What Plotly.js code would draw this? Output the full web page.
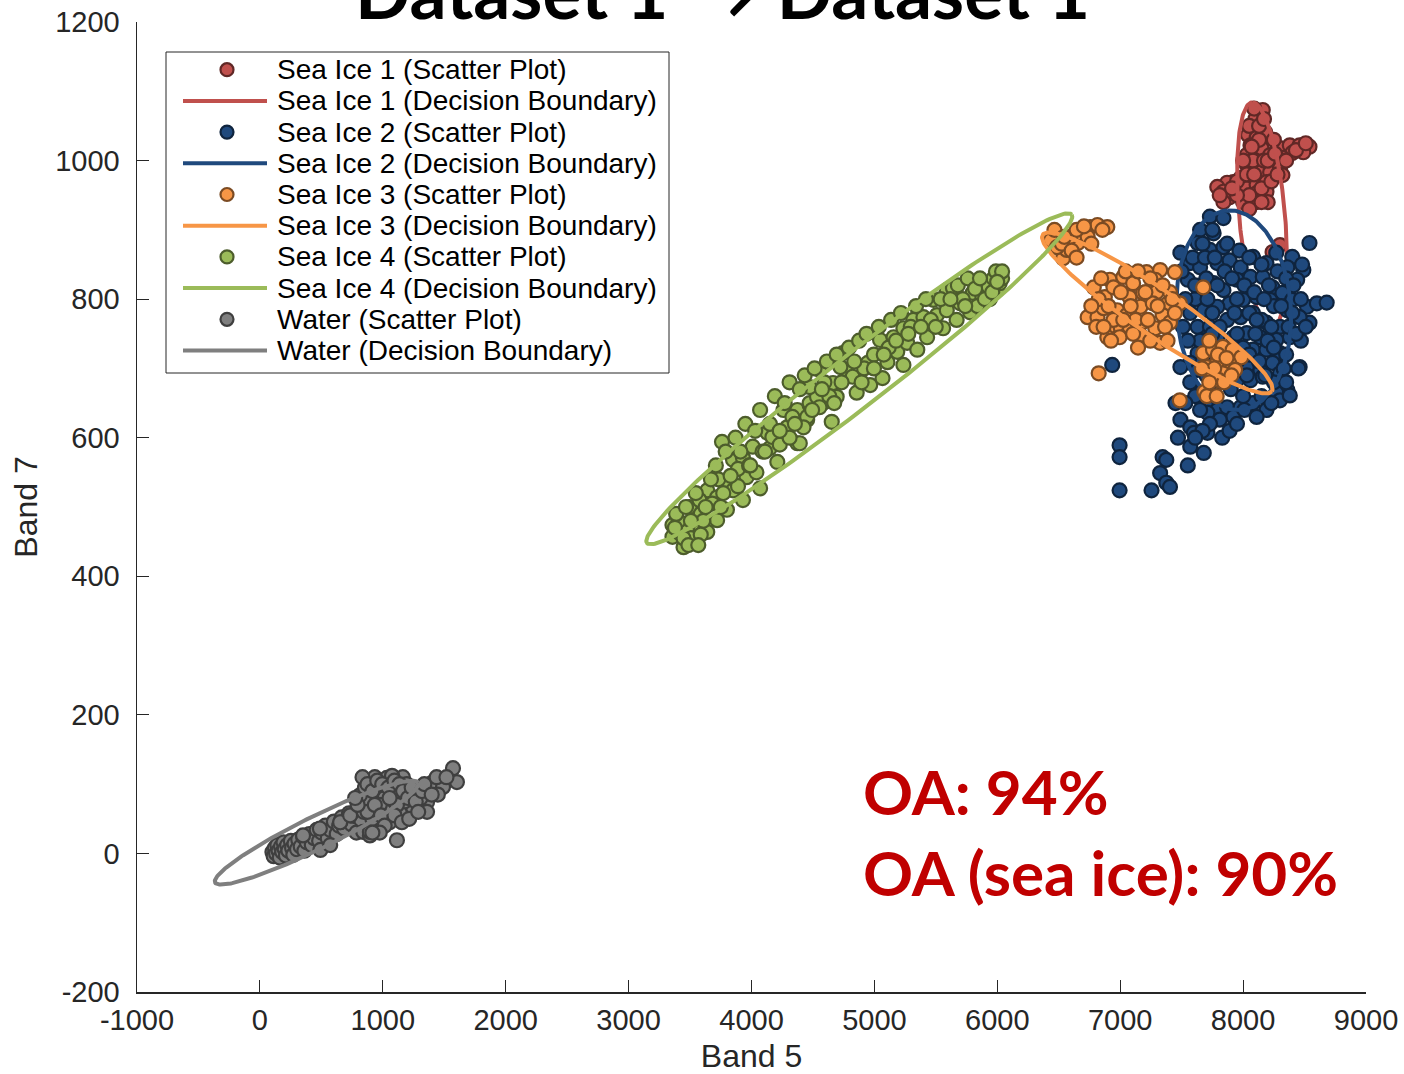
<!DOCTYPE html>
<html>
<head>
<meta charset="utf-8">
<script src="https://cdn.plot.ly/plotly-3.0.1.min.js"></script>
<style>
  html, body { margin: 0; padding: 0; background: #fff; }
  #chart { width: 1404px; height: 1074px; }
</style>
</head>
<body>
<div id="chart"></div>
<script>
// ---- Class names ----
const classNames = ['Sea Ice 1', 'Sea Ice 2', 'Sea Ice 3', 'Sea Ice 4', 'Water'];

// ---- Scatter samples (Band 5, Band 7) ----
const seaIce1X = [8160, 8120, 8080, 8040, 8110, 8180, 8060, 8150, 8030, 8220, 8300, 8380, 8460, 8540, 8490, 8400, 8320, 8240, 8110, 8030,
  8140, 8220, 8300, 8320, 8060, 7980, 7920, 7870, 7790, 7840, 7920, 7890, 7980, 8030, 8110, 8190, 8110, 8190, 8000, 8110,
  7840, 8300, 8240, 8100, 8130, 8080, 8170, 8150, 8050, 8200, 8250,
  7950, 8000, 8050, 8090, 8130, 8070, 8170, 8200, 8230, 8260, 8280, 8350, 8430, 8510, 8030, 7950, 8090, 8150, 7910, 7810, 8050];
const seaIce1Y = [1073, 1061, 1047, 1037, 1033, 1041, 1022, 1018, 1008, 1008, 1018, 1022, 1022, 1020, 1012, 1011, 1004, 998, 998, 994,
  983, 983, 989, 979, 975, 975, 969, 968, 962, 955, 955, 947, 953, 960, 965, 969, 953, 955, 940, 940,
  940, 878, 868, 1060, 1030, 1000, 1000, 960, 950, 940, 1030,
  970, 1000, 1050, 1075, 1050, 1020, 1060, 1000, 970, 1010, 980, 1000, 1015, 1025, 980, 950, 980, 940, 960, 950, 930];

const seaIce2X = [7730, 7840, 7650, 7760, 7630, 7730, 7840, 7490, 7570, 7650, 7790, 7890, 7980, 8080, 8190, 8270, 8400, 8540, 8490, 8360,
  8440, 7550, 7650, 7760, 7840, 7950, 8060, 8160, 8240, 8320, 8400, 8520, 8600, 8540, 8460, 8360, 8220, 8110, 8000, 7890,
  7790, 7680, 7570, 7630, 7730, 7870, 7980, 8080, 8190, 8300, 8380, 8270, 8140, 8030, 7920, 7790, 7680, 7630, 7570, 7490,
  7630, 8080, 8190, 8300, 8240, 8140, 8030, 7950, 8060, 8160, 8300, 8360, 8270, 8460, 7650, 7710, 7790, 7870, 7980, 8080,
  8190, 8300, 7920, 7810, 7710, 7490, 7570, 7470, 7600, 7710, 7570, 7680, 7345, 7375, 7325, 7375, 7405, 7255, 6995, 6995,
  6995, 6935, 8450, 7700, 7610, 7750, 7850, 7950, 8050, 8150, 8250, 7900, 8000, 8100, 8200, 7750, 7850, 7950, 8050, 7800,
  7900, 8000, 8150, 8250, 7650, 7700, 8350, 8400, 8470, 8380,
  7500, 7530, 7510, 7550, 7590, 7610, 7670, 7690, 7710, 7750, 7770, 7790, 7810, 7830, 7870, 7910, 7930, 7950, 7970, 8010,
  8030, 8050, 8090, 8110, 8130, 8150, 8170, 8180, 8210, 8230, 8250, 8280, 8310, 8330, 8350, 8370, 8410, 8430, 8470, 8510,
  7570, 7610, 7650, 7730, 7770, 7830, 7890, 7950, 8010, 8110, 8230, 8350, 7530, 7450, 7670, 7750, 7670, 7550, 7610, 8480, 8680];
const seaIce2Y = [919, 917, 900, 895, 881, 871, 875, 867, 852, 846, 852, 856, 846, 861, 852, 867, 861, 881, 842, 846,
  828, 828, 809, 823, 813, 828, 832, 832, 817, 809, 799, 789, 794, 766, 774, 784, 799, 803, 799, 794,
  789, 784, 780, 760, 760, 770, 774, 780, 766, 760, 745, 741, 745, 751, 745, 745, 741, 722, 708, 702,
  698, 727, 727, 722, 708, 698, 702, 683, 683, 688, 693, 669, 665, 702, 665, 650, 640, 644, 644, 650,
  640, 654, 630, 626, 636, 626, 615, 600, 607, 607, 587, 578, 572, 568, 549, 535, 529, 524, 589, 572,
  524, 705, 700, 830, 800, 780, 840, 800, 780, 770, 790, 720, 730, 750, 740, 720, 700, 710, 720, 680,
  670, 660, 660, 680, 740, 690, 720, 780, 740, 661,
  840, 800, 760, 740, 860, 820, 880, 860, 800, 900, 860, 820, 760, 730, 880, 830, 780, 750, 870, 820,
  690, 860, 810, 770, 710, 850, 800, 690, 820, 760, 730, 840, 790, 700, 830, 760, 820, 750, 800, 760,
  680, 660, 640, 620, 660, 600, 610, 620, 640, 630, 650, 680, 650, 650, 710, 750, 610, 560, 600, 850, 795];

const seaIce3X = [6435, 6535, 6565, 6655, 6675, 6755, 6815, 6895, 6855, 6485, 6595, 6735,
  6785, 6735, 6815, 6875, 6915, 7025, 7105, 7215, 7325, 7285, 7445, 7405, 7295, 7185, 7075, 6975, 7055, 7165,
  7265, 7375, 7485, 7345, 7405, 7285, 7175, 7075, 6975, 6895, 6895, 6995, 7165, 7325, 6865, 6945, 7675, 6825, 7485,
  7675, 7755, 7835, 7915, 7985, 7885, 7785, 7705, 7745, 7835, 7935, 7805, 7685, 7705,
  6825, 6845, 6905, 6945, 7005, 7045, 7085, 7125, 7145, 7205, 7245, 7305, 7345, 7365, 7425, 7445, 6925, 7025, 7105, 7225,
  7245, 7385, 7145, 6805, 6765, 6865, 6465, 6525, 6605, 6645, 6705, 6765, 6645, 6545,
  7725, 7795, 7865, 7765, 7845, 7905, 7725, 7785, 7665];
const seaIce3Y = [885, 859, 871, 881, 895, 904, 907, 904, 900, 875, 890, 890,
  817, 774, 774, 803, 828, 832, 823, 839, 842, 828, 839, 810, 810, 809, 803, 784, 777, 789,
  794, 792, 794, 777, 766, 758, 766, 760, 763, 755, 745, 745, 748, 737, 787, 817, 817, 693, 654,
  722, 727, 731, 727, 716, 708, 708, 702, 690, 693, 698, 683, 666, 660,
  800, 830, 790, 770, 810, 840, 790, 770, 840, 810, 830, 790, 820, 760, 800, 780, 740, 770, 750, 770,
  740, 740, 730, 760, 790, 760, 900, 880, 870, 900, 905, 880, 860, 890,
  740, 720, 715, 700, 680, 690, 680, 660, 700];

const seaIce4X = [3760, 3357, 3447, 3527, 3357, 3497, 3640, 3720, 3640, 3800, 3850, 3960, 3930, 4040, 4070, 3930, 4010, 4150, 4130, 4210,
  4170, 4290, 4260, 4373, 4373, 4453, 4473, 4653, 4583, 3800, 3720, 3557, 3417, 3577, 3850, 4453, 4473, 4553, 4663, 4693,
  4773, 4856, 4823, 4946, 4966, 5066, 5046, 5106, 5186, 5236, 5156, 5236, 5266, 5349, 5316, 5399, 5429, 5479, 5509, 5589,
  5559, 5589, 5639, 5699, 5669, 5779, 5799, 5879, 5929, 5999, 5969, 6019, 4743, 4723, 4393, 4423, 4533, 4553, 4473,
  3477, 3407, 3587, 3507, 3680, 3730, 3770, 3890, 3980, 3890, 4090, 4230, 4310, 4333, 4633, 4593, 4916, 4996, 5116, 5296,
  5459, 5719, 5839, 5939, 6039, 5989,
  3387, 3467, 3547, 3607, 3670, 3710, 3750, 3790, 3830, 3870, 3910, 3950, 3990, 4030, 4070, 4110, 4150, 4190, 4230, 4270,
  4310, 4353, 4393, 4433, 4493, 4513, 4573, 4613, 4673, 4693, 4733, 4793, 4836, 4876, 4896, 4936, 4996, 5036, 5076, 5136,
  5176, 5216, 5276, 5339, 5379, 5419, 5499, 5539, 5619, 5679, 5739, 5759, 5819, 5859, 5899, 5959, 6039, 5999, 3447, 3507,
  3587, 3627, 3377, 3487, 3567];
const seaIce4Y = [594, 474, 442, 448, 457, 500, 524, 514, 464, 536, 568, 543, 571, 550, 527, 510, 587, 585, 607, 565,
  601, 615, 640, 592, 640, 626, 647, 623, 650, 496, 481, 471, 462, 510, 524, 630, 650, 698, 679, 659,
  698, 665, 688, 708, 676, 686, 741, 709, 724, 705, 745, 758, 737, 727, 770, 774, 745, 799, 777, 784,
  758, 813, 816, 794, 770, 781, 809, 803, 818, 813, 830, 823, 722, 702, 592, 615, 659, 644, 673,
  470, 480, 490, 455, 505, 540, 520, 555, 560, 530, 580, 590, 600, 630, 660, 680, 700, 720, 730, 760,
  770, 800, 790, 800, 830, 840,
  490, 500, 520, 480, 540, 560, 500, 580, 545, 600, 580, 620, 560, 610, 640, 580, 620, 660, 610, 650,
  680, 620, 670, 690, 640, 700, 670, 710, 650, 720, 680, 730, 710, 740, 680, 750, 700, 760, 720, 770,
  740, 780, 750, 790, 760, 800, 760, 800, 800, 820, 790, 830, 815, 830, 800, 810, 840, 825, 455, 480,
  460, 500, 470, 445, 445];

const waterX = [102, 112, 122, 132, 142, 152, 162, 172, 182, 192, 202, 212, 222, 232, 252, 262, 272, 282, 302, 312,
  332, 352, 362, 382, 402, 422, 442, 462, 482, 502, 532, 552, 572, 602, 625, 645, 665, 685, 705, 725,
  745, 765, 785, 805, 825, 655, 735, 492, 572, 653, 734, 488, 351, 841, 895,
  895, 1033, 1163, 1082, 895, 952, 1138, 1219, 814, 1000, 895, 1247, 965, 1015, 1115, 855, 935, 1075, 1195, 1025,
  1175, 915, 975, 1055, 1115, 845, 1360, 1360, 1409, 1490, 1603, 1571, 1115, 1308, 1268, 1448,
  835, 875, 915, 955, 995, 1045, 1095, 1135, 1165, 1205, 1235, 875, 935, 985, 1055, 1095, 1155, 1215, 1268, 1288,
  1015, 975, 915, 795, 775, 1318, 1338, 1398, 1438, 1518];
const waterY = [2, -4, 8, 0, 12, 4, -6, 10, 2, 16, 6, -3, 12, 4, 18, 8, -2, 14, 6, 20,
  10, 24, 4, 16, 28, 12, 22, 34, 18, 30, 40, 22, 34, 46, 28, 40, 52, 36, 48, 58,
  42, 54, 30, 64, 48, 45, 55, 5, 12, 45, 55, 36, 26, 31, 26,
  103, 109, 110, 84, 74, 60, 60, 88, 84, 45, 31, 66, 95, 80, 95, 95, 110, 112, 100, 60,
  75, 50, 70, 45, 70, 60, 74, 60, 103, 96, 103, 123, 19, 80, 95, 85,
  110, 100, 90, 105, 100, 95, 105, 100, 90, 80, 95, 60, 70, 55, 80, 55, 45, 50, 75, 60,
  40, 30, 30, 70, 80, 90, 100, 85, 110, 110];

// ---- Decision boundaries: centre, and two conjugate semi-axis vectors (data units) ----
const boundaryCenters = [[8154, 921], [7924, 784], [7302, 780], [4877, 685], [461, 30]];
const boundaryAxisU = [[-81, 163], [-49, 144], [932, -113], [1728, 237], [826, 72]];
const boundaryAxisV = [[186, 3], [464, 5], [-106, -27], [130, -30], [59, -21]];

// ---- Axis ticks ----
const xTickVals = [-1000, 0, 1000, 2000, 3000, 4000, 5000, 6000, 7000, 8000, 9000];
const xTickText = ['-1000', '0', '1000', '2000', '3000', '4000', '5000', '6000', '7000', '8000', '9000'];
const yTickVals = [-200, 0, 200, 400, 600, 800, 1000, 1200];
const yTickText = ['-200', '0', '200', '400', '600', '800', '1000', '1200'];

// ---- Accuracy labels ----
const accuracyLabels = ['OA: 94%', 'OA (sea ice): 90%'];

// ---- Styling ----
const fillColors = ['#c0504d', '#1f497d', '#f79646', '#9bbb59', '#7f7f7f'];
const edgeColors = ['#602826', '#0f243e', '#7b4b23', '#4d5d2c', '#3f3f3f'];
const axisColor = '#262626';
const tickFont = { family: 'Liberation Sans, Arial, Helvetica, sans-serif', size: 29, color: axisColor };

const scatterX = [seaIce1X, seaIce2X, seaIce3X, seaIce4X, waterX];
const scatterY = [seaIce1Y, seaIce2Y, seaIce3Y, seaIce4Y, waterY];

function ellipsePath(c, u, v, n) {
  const xs = [], ys = [];
  for (let i = 0; i <= n; i++) {
    const t = 2 * Math.PI * i / n;
    xs.push(c[0] + Math.cos(t) * u[0] + Math.sin(t) * v[0]);
    ys.push(c[1] + Math.cos(t) * u[1] + Math.sin(t) * v[1]);
  }
  return { xs, ys };
}

const traces = [];
classNames.forEach((name, k) => {
  traces.push({
    type: 'scatter', mode: 'markers', name: name + ' (Scatter Plot)',
    x: scatterX[k], y: scatterY[k],
    marker: { symbol: 'circle', size: 14, color: fillColors[k], line: { color: edgeColors[k], width: 2.2 } },
    hoverinfo: 'skip', showlegend: false
  });
  const e = ellipsePath(boundaryCenters[k], boundaryAxisU[k], boundaryAxisV[k], 240);
  traces.push({
    type: 'scatter', mode: 'lines', name: name + ' (Decision Boundary)',
    x: e.xs, y: e.ys,
    line: { color: fillColors[k], width: 4 },
    hoverinfo: 'skip', showlegend: false
  });
});

// ---- Layout geometry (pixels) ----
const W = 1404, H = 1074;
const M = { l: 137, r: 38, t: 22, b: 82 };
const plotW = W - M.l - M.r, plotH = H - M.t - M.b;
const pxX = px => (px - M.l) / plotW;
const pxY = py => (H - M.b - py) / plotH;

const shapes = [];
const annotations = [];

// Legend box
shapes.push({
  type: 'rect', xref: 'paper', yref: 'paper',
  x0: pxX(166), x1: pxX(669), y0: pxY(373), y1: pxY(52),
  fillcolor: '#ffffff', line: { color: axisColor, width: 1 }, layer: 'above'
});
const legendFont = { family: 'Liberation Sans, Arial, Helvetica, sans-serif', size: 28, color: '#000000' };
classNames.forEach((name, k) => {
  const yScatter = 69.7 + (2 * k) * 31.2;
  const yLine = 69.7 + (2 * k + 1) * 31.2;
  const r = 6.5;
  shapes.push({
    type: 'circle', xref: 'paper', yref: 'paper',
    x0: pxX(227 - r), x1: pxX(227 + r), y0: pxY(yScatter + r), y1: pxY(yScatter - r),
    fillcolor: fillColors[k], line: { color: edgeColors[k], width: 2.2 }, layer: 'above'
  });
  shapes.push({
    type: 'line', xref: 'paper', yref: 'paper',
    x0: pxX(183), x1: pxX(267), y0: pxY(yLine), y1: pxY(yLine),
    line: { color: fillColors[k], width: 4 }, layer: 'above'
  });
  annotations.push({
    xref: 'paper', yref: 'paper', x: pxX(276), y: pxY(yScatter), xanchor: 'left', yanchor: 'middle',
    text: name + ' (Scatter Plot)', showarrow: false, font: legendFont, borderpad: 0
  });
  annotations.push({
    xref: 'paper', yref: 'paper', x: pxX(276), y: pxY(yLine), xanchor: 'left', yanchor: 'middle',
    text: name + ' (Decision Boundary)', showarrow: false, font: legendFont, borderpad: 0
  });
});

// Heading above the axes (partly outside the page)
annotations.push({
  xref: 'paper', yref: 'paper', x: pxX(722), y: pxY(36), xanchor: 'center', yanchor: 'bottom',
  text: '<b>Dataset 1 → Dataset 1</b>', showarrow: false, borderpad: 0,
  font: { family: 'Lato, Open Sans, sans-serif', size: 73, color: '#000000' }
});

// Overall accuracy text
const oaFont = { family: 'Lato, Open Sans, sans-serif', size: 62, color: '#c00000' };
annotations.push({
  xref: 'paper', yref: 'paper', x: pxX(862), y: pxY(829), xanchor: 'left', yanchor: 'bottom',
  text: '<b>' + accuracyLabels[0] + '</b>', showarrow: false, borderpad: 0, font: oaFont
});
annotations.push({
  xref: 'paper', yref: 'paper', x: pxX(862), y: pxY(910), xanchor: 'left', yanchor: 'bottom',
  text: '<b>' + accuracyLabels[1] + '</b>', showarrow: false, borderpad: 0, font: oaFont
});

const layout = {
  width: W, height: H,
  margin: M,
  paper_bgcolor: '#ffffff', plot_bgcolor: '#ffffff',
  showlegend: false,
  hovermode: false,
  xaxis: {
    range: [-1000, 9000], tickmode: 'array', tickvals: xTickVals, ticktext: xTickText,
    ticks: 'inside', ticklen: 12, tickwidth: 1, tickcolor: axisColor,
    showline: true, linecolor: axisColor, linewidth: 1.5,
    showgrid: false, zeroline: false, tickfont: tickFont, ticklabelstandoff: 2,
    ticklabeloverflow: 'allow',
    title: { text: 'Band 5', font: { family: tickFont.family, size: 32, color: axisColor }, standoff: 14 }
  },
  yaxis: {
    range: [-200, 1200], tickmode: 'array', tickvals: yTickVals, ticktext: yTickText,
    ticks: 'inside', ticklen: 12, tickwidth: 1, tickcolor: axisColor,
    showline: true, linecolor: axisColor, linewidth: 1.5,
    showgrid: false, zeroline: false, tickfont: tickFont, ticklabelstandoff: 10,
    ticklabeloverflow: 'allow',
    title: { text: 'Band 7', font: { family: tickFont.family, size: 32, color: axisColor }, standoff: 8 }
  },
  shapes: shapes,
  annotations: annotations
};

Plotly.newPlot('chart', traces, layout, { staticPlot: true, displayModeBar: false });
</script>
</body>
</html>
